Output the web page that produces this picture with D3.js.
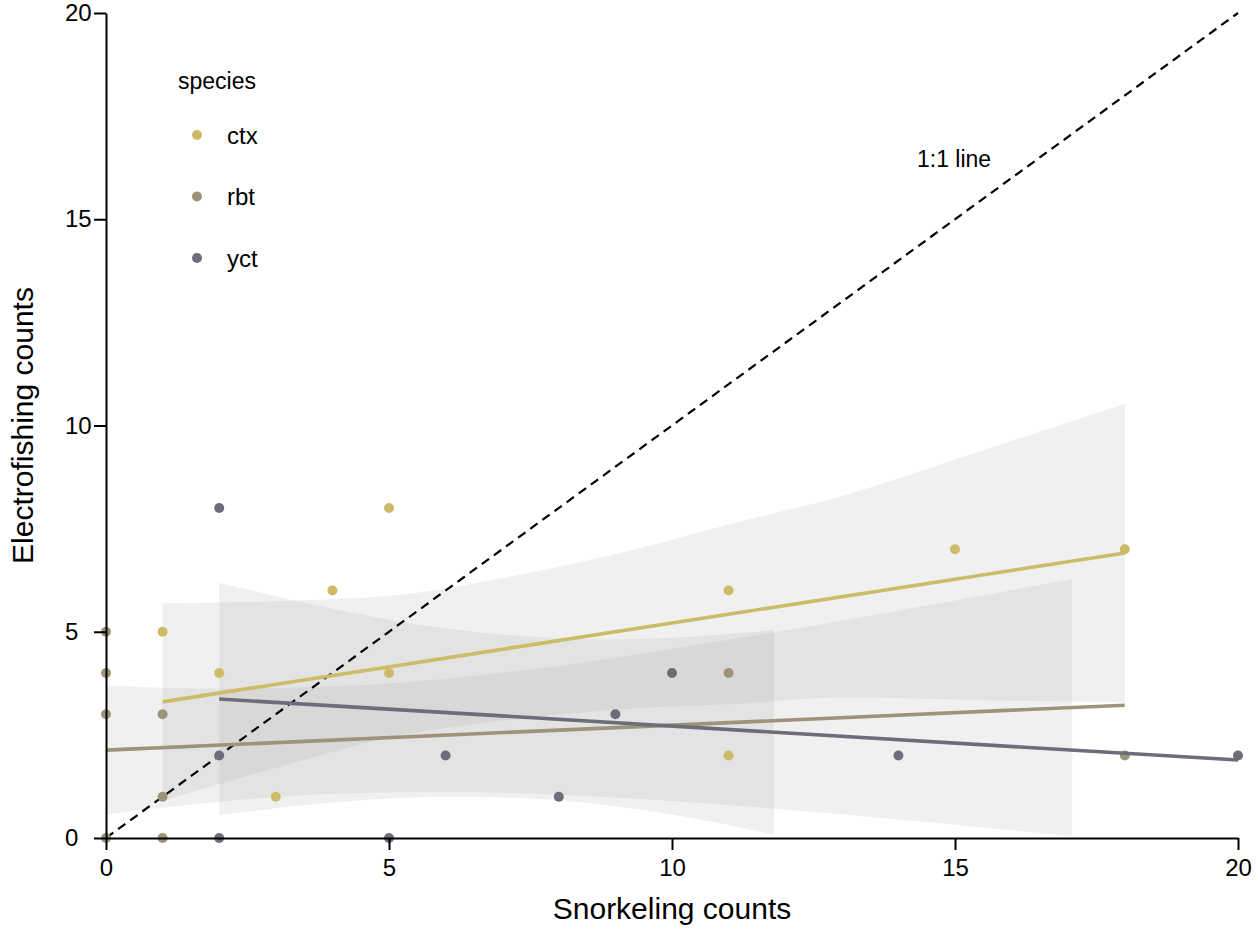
<!DOCTYPE html>
<html>
<head>
<meta charset="utf-8">
<script src="https://cdn.jsdelivr.net/npm/d3@7"></script>
<style>
  body { margin: 0; background: #fff; }
  text { font-family: 'Liberation Sans', Arial, sans-serif; fill: #000; }
</style>
</head>
<body>
<div id="chart-area"></div>
<script>
const WIDTH = 1258;
const HEIGHT = 930;

const species = ['ctx', 'rbt', 'yct'];
const colors = ['#CDBB68', '#9B9478', '#6B6D78'];

const xTicks = [0, 5, 10, 15, 20];
const yTicks = [0, 5, 10, 15, 20];

// observed counts (snorkeling, electrofishing)
const ctxSnorkel = [1, 2, 3, 4, 5, 5, 11, 11, 15, 18];
const ctxElectro = [5, 4, 1, 6, 8, 4, 6, 2, 7, 7];
const rbtSnorkel = [0, 0, 0, 0, 1, 1, 1, 11, 18];
const rbtElectro = [5, 4, 3, 0, 3, 1, 0, 4, 2];
const yctSnorkel = [2, 2, 2, 5, 6, 8, 9, 10, 14, 20];
const yctElectro = [8, 2, 0, 0, 2, 1, 3, 4, 2, 2];

// fitted lines, read at their ends
const ctxFitX = [1, 18];
const ctxFitY = [3.30, 6.91];
const rbtFitX = [0, 18];
const rbtFitY = [2.13, 3.22];
const yctFitX = [2, 20];
const yctFitY = [3.37, 1.89];

// confidence ribbons
const ctxBandX = [1, 3, 5, 7, 9.3, 11, 13.1, 15.5, 18];
const ctxBandHi = [5.69, 5.74, 5.87, 6.30, 6.98, 7.60, 8.33, 9.40, 10.53];
const ctxBandLo = [0.91, 1.70, 2.43, 2.84, 3.14, 3.24, 3.41, 3.34, 3.29];
const rbtBandX = [0, 2, 4, 6, 8, 10, 12, 14, 17.07];
const rbtBandHi = [3.69, 3.62, 3.67, 3.86, 4.17, 4.58, 5.03, 5.51, 6.28];
const rbtBandLo = [0.57, 0.88, 1.07, 1.12, 1.05, 0.90, 0.69, 0.45, 0.04];
const yctBandX = [2, 4, 6, 7.6, 9, 10.5, 11.8];
const yctBandHi = [6.19, 5.56, 5.08, 4.87, 4.81, 4.89, 5.04];
const yctBandLo = [0.55, 0.86, 1.00, 0.95, 0.77, 0.45, 0.08];

const groups = [
  {name: 'ctx', sx: ctxSnorkel, ey: ctxElectro, fx: ctxFitX, fy: ctxFitY, bx: ctxBandX, hi: ctxBandHi, lo: ctxBandLo},
  {name: 'rbt', sx: rbtSnorkel, ey: rbtElectro, fx: rbtFitX, fy: rbtFitY, bx: rbtBandX, hi: rbtBandHi, lo: rbtBandLo},
  {name: 'yct', sx: yctSnorkel, ey: yctElectro, fx: yctFitX, fy: yctFitY, bx: yctBandX, hi: yctBandHi, lo: yctBandLo}
];

const color = d3.scaleOrdinal().domain(species).range(colors);

const x = d3.scaleLinear().domain([0, 20]).range([106, 1238]);
const y = d3.scaleLinear().domain([0, 20]).range([838, 13]);

const svg = d3.select('#chart-area').append('svg')
  .attr('width', WIDTH)
  .attr('height', HEIGHT);

// ribbons
const area = d3.area()
  .x(d => x(d[0]))
  .y0(d => y(d[1]))
  .y1(d => y(d[2]))
  .curve(d3.curveMonotoneX);

groups.forEach(g => {
  svg.append('path')
    .datum(g.bx.map((v, i) => [v, g.lo[i], g.hi[i]]))
    .attr('d', area)
    .attr('fill', '#999')
    .attr('fill-opacity', 0.15);
});

// 1:1 line
svg.append('line')
  .attr('x1', x(0)).attr('y1', y(0))
  .attr('x2', x(20)).attr('y2', y(20))
  .attr('stroke', '#000')
  .attr('stroke-width', 2.2)
  .attr('stroke-dasharray', '9,6');

svg.append('text')
  .attr('x', 917)
  .attr('y', 167)
  .style('font-size', '23px')
  .text('1:1 line');

// points
groups.forEach(g => {
  svg.append('g').selectAll('circle')
    .data(g.sx.map((v, i) => [v, g.ey[i]]))
    .enter().append('circle')
    .attr('cx', d => x(d[0]))
    .attr('cy', d => y(d[1]))
    .attr('r', 5)
    .attr('fill', color(g.name));
});

// fitted lines
const line = d3.line().x(d => x(d[0])).y(d => y(d[1]));
groups.forEach(g => {
  svg.append('path')
    .datum(g.fx.map((v, i) => [v, g.fy[i]]))
    .attr('d', line)
    .attr('fill', 'none')
    .attr('stroke', color(g.name))
    .attr('stroke-width', 3.6);
});

// axes
const xAxis = svg.append('g')
  .attr('transform', `translate(0, ${y(0)})`)
  .call(d3.axisBottom(x).tickValues(xTicks).tickSize(12).tickPadding(9).tickSizeOuter(0));
const yAxis = svg.append('g')
  .attr('transform', `translate(${x(0)}, 0)`)
  .call(d3.axisLeft(y).tickValues(yTicks).tickSize(12).tickPadding(5).tickSizeOuter(0));

[xAxis, yAxis].forEach(a => {
  a.select('.domain').attr('stroke', '#000').attr('stroke-width', 2);
  a.selectAll('.tick line').attr('stroke', '#000').attr('stroke-width', 2);
  a.selectAll('.tick text')
    .style('font-size', '24px')
    .style('font-family', "'Liberation Sans', Arial, sans-serif")
    .attr('fill', '#000');
});

// y tick labels sit left-aligned
yAxis.selectAll('.tick text')
  .attr('text-anchor', 'start')
  .attr('x', 65 - x(0));

svg.append('text')
  .attr('x', (x(0) + x(20)) / 2)
  .attr('y', 919)
  .attr('text-anchor', 'middle')
  .style('font-size', '30px')
  .text('Snorkeling counts');

svg.append('text')
  .attr('transform', `translate(33, ${(y(0) + y(20)) / 2}) rotate(-90)`)
  .attr('text-anchor', 'middle')
  .style('font-size', '30px')
  .text('Electrofishing counts');

// legend
const legend = svg.append('g');
legend.append('text')
  .attr('x', 178)
  .attr('y', 89)
  .style('font-size', '23px')
  .text('species');

const items = legend.selectAll('g.item')
  .data(species)
  .enter().append('g')
  .attr('class', 'item')
  .attr('transform', (d, i) => `translate(197, ${135 + i * 61.5})`);

items.append('circle')
  .attr('r', 5)
  .attr('fill', d => color(d));

items.append('text')
  .attr('x', 30)
  .attr('y', 8.5)
  .style('font-size', '24px')
  .text(d => d);
</script>
</body>
</html>
